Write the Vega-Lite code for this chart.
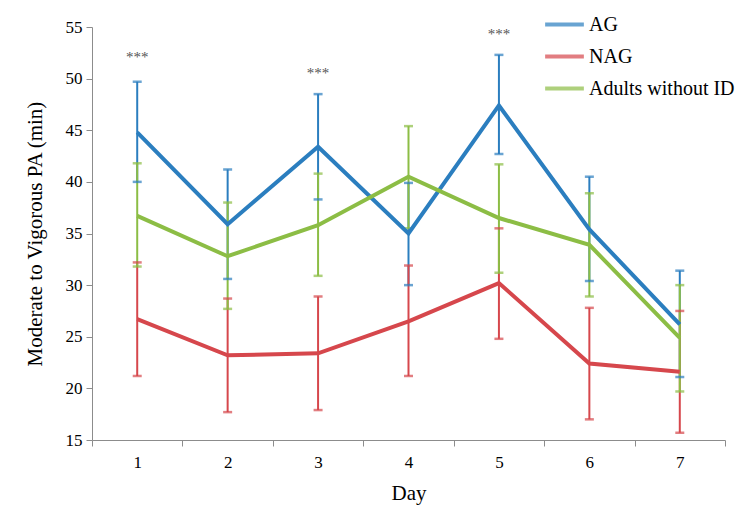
{
  "$schema": "https://vega.github.io/schema/vega-lite/v6.json",
  "width": 633,
  "height": 413,
  "autosize": {"type": "none"},
  "padding": {"left": 92, "top": 27, "right": 22, "bottom": 76},
  "background": "white",
  "datasets": {
    "series": [
      {"day": 1, "group": "AG", "mean": 44.8, "lower": 40.0, "upper": 49.7},
      {"day": 2, "group": "AG", "mean": 35.9, "lower": 30.6, "upper": 41.2},
      {"day": 3, "group": "AG", "mean": 43.4, "lower": 38.3, "upper": 48.5},
      {"day": 4, "group": "AG", "mean": 35.0, "lower": 30.0, "upper": 39.9},
      {"day": 5, "group": "AG", "mean": 47.4, "lower": 42.7, "upper": 52.3},
      {"day": 6, "group": "AG", "mean": 35.4, "lower": 30.4, "upper": 40.5},
      {"day": 7, "group": "AG", "mean": 26.2, "lower": 21.1, "upper": 31.4},
      {"day": 1, "group": "NAG", "mean": 26.7, "lower": 21.2, "upper": 32.2},
      {"day": 2, "group": "NAG", "mean": 23.2, "lower": 17.7, "upper": 28.7},
      {"day": 3, "group": "NAG", "mean": 23.4, "lower": 17.9, "upper": 28.9},
      {"day": 4, "group": "NAG", "mean": 26.5, "lower": 21.2, "upper": 31.9},
      {"day": 5, "group": "NAG", "mean": 30.2, "lower": 24.8, "upper": 35.5},
      {"day": 6, "group": "NAG", "mean": 22.4, "lower": 17.0, "upper": 27.8},
      {"day": 7, "group": "NAG", "mean": 21.6, "lower": 15.7, "upper": 27.5},
      {"day": 1, "group": "Adults without ID", "mean": 36.7, "lower": 31.8, "upper": 41.8},
      {"day": 2, "group": "Adults without ID", "mean": 32.8, "lower": 27.7, "upper": 38.0},
      {"day": 3, "group": "Adults without ID", "mean": 35.8, "lower": 30.9, "upper": 40.8},
      {"day": 4, "group": "Adults without ID", "mean": 40.5, "lower": 35.5, "upper": 45.4},
      {"day": 5, "group": "Adults without ID", "mean": 36.5, "lower": 31.2, "upper": 41.7},
      {"day": 6, "group": "Adults without ID", "mean": 33.9, "lower": 28.9, "upper": 38.9},
      {"day": 7, "group": "Adults without ID", "mean": 24.9, "lower": 19.7, "upper": 30.0}
    ],
    "stars": [
      {"day": 1, "y": 52.1, "label": "***"},
      {"day": 3, "y": 50.5, "label": "***"},
      {"day": 5, "y": 54.3, "label": "***"}
    ]
  },
  "encoding": {
    "x": {
      "field": "day",
      "type": "ordinal",
      "bandPosition": 0.5,
      "scale": {"type": "band", "domain": [1, 2, 3, 4, 5, 6, 7], "paddingInner": 0, "paddingOuter": 0},
      "axis": {"title": "Day", "labelAngle": 0, "tickBand": "extent", "tickSize": 6, "labelPadding": 8, "titlePadding": 12}
    },
    "color": {
      "field": "group",
      "type": "nominal",
      "sort": ["AG", "NAG", "Adults without ID"],
      "scale": {"domain": ["AG", "NAG", "Adults without ID"], "range": ["#2B7EBF", "#D6474C", "#8CBD45"]},
      "legend": {
        "title": null,
        "orient": "none",
        "legendX": 451,
        "legendY": -24,
        "symbolType": "stroke",
        "symbolSize": 1500,
        "symbolStrokeWidth": 4,
        "labelFont": "Liberation Serif",
        "labelFontSize": 20,
        "labelColor": "black",
        "labelOffset": 3,
        "rowPadding": -6
      }
    }
  },
  "layer": [
    {
      "data": {"name": "series"},
      "mark": {"type": "rule", "strokeWidth": 2},
      "encoding": {
        "y": {"field": "lower", "type": "quantitative"},
        "y2": {"field": "upper"}
      }
    },
    {
      "data": {"name": "series"},
      "mark": {"type": "tick", "size": 9, "thickness": 2.5},
      "encoding": {
        "y": {"field": "lower", "type": "quantitative"}
      }
    },
    {
      "data": {"name": "series"},
      "mark": {"type": "tick", "size": 9, "thickness": 2.5},
      "encoding": {
        "y": {"field": "upper", "type": "quantitative"}
      }
    },
    {
      "data": {"name": "series"},
      "mark": {"type": "line", "strokeWidth": 4},
      "encoding": {
        "y": {
          "field": "mean",
          "type": "quantitative",
          "title": "Moderate to Vigorous PA (min)",
          "scale": {"domain": [15, 55], "nice": false, "zero": false},
          "axis": {"values": [15, 20, 25, 30, 35, 40, 45, 50, 55], "tickSize": 6, "labelPadding": 4, "titlePadding": 20}
        }
      }
    },
    {
      "data": {"name": "stars"},
      "mark": {"type": "text", "font": "Liberation Serif", "fontSize": 15, "baseline": "middle"},
      "encoding": {
        "y": {"field": "y", "type": "quantitative"},
        "text": {"field": "label"},
        "color": {"value": "#555"}
      }
    }
  ],
  "config": {
    "view": {"stroke": null},
    "axis": {
      "grid": false,
      "domainColor": "#8c8c8c",
      "tickColor": "#8c8c8c",
      "labelFont": "Liberation Serif",
      "labelFontSize": 17,
      "labelColor": "black",
      "titleFont": "Liberation Serif",
      "titleFontSize": 21,
      "titleFontWeight": "normal",
      "titleColor": "black"
    }
  }
}
